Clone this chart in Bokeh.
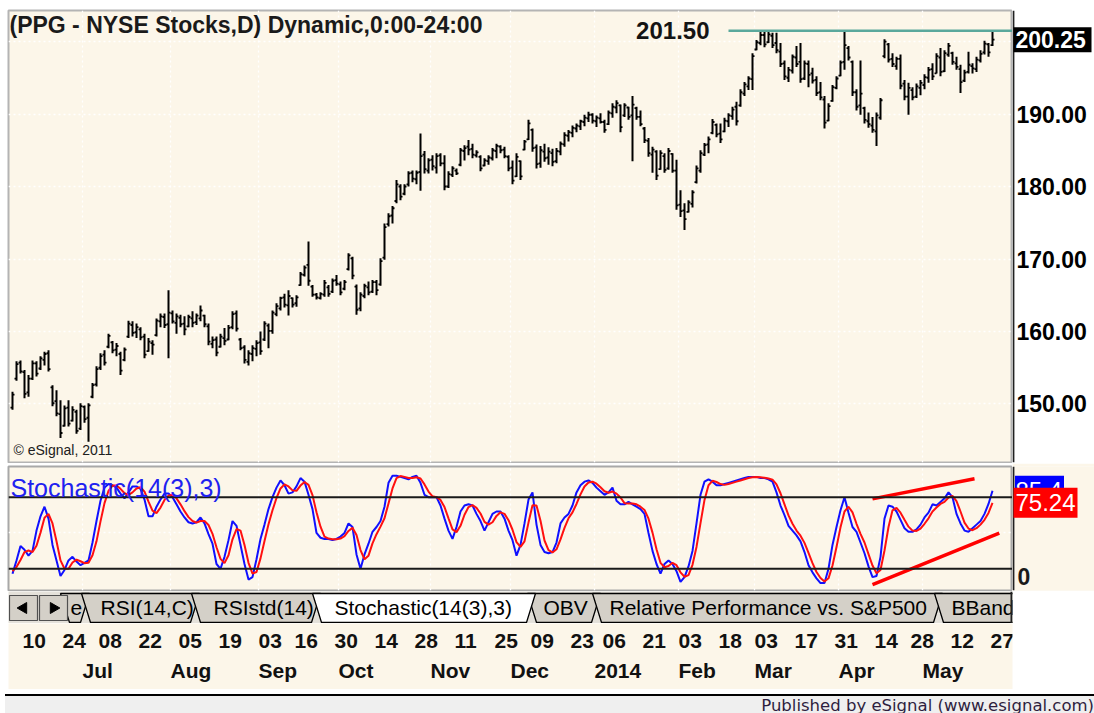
import numpy as np
import pandas as pd
from bokeh.plotting import figure
from bokeh.models import Range1d, FixedTicker, Label, Span, ColumnDataSource, Div, Grid
from bokeh.layouts import column, row
from bokeh.embed import file_html
from bokeh.resources import INLINE
from bokeh.core.properties import value

# ------------------------------------------------------------------ data
holidays = ["2013-07-04", "2013-09-02", "2013-11-28", "2013-12-25", "2014-01-01",
            "2014-01-20", "2014-02-17", "2014-04-18", "2014-05-26"]
first_day = "2013-06-05"
last_day = "2014-05-27"

high = [151.7,155.9,156.0,154.7,154.0,156.0,155.9,156.6,157.2,157.4,
        152.6,151.9,150.5,149.8,150.5,149.7,149.2,150.1,149.8,150.1,
        152.9,155.2,157.0,157.4,159.7,158.7,158.4,157.2,157.8,161.5,
        161.4,161.1,160.6,159.7,159.1,158.8,161.8,162.5,162.5,165.7,
        162.9,162.5,162.3,162.1,162.3,162.8,162.5,163.6,162.3,161.1,
        159.3,159.3,159.7,160.5,160.9,162.8,162.9,159.1,158.1,157.4,
        158.1,158.8,160.0,161.4,161.1,162.9,163.9,164.8,165.2,165.7,
        164.7,165.0,168.2,169.1,172.4,166.4,165.3,165.4,167.1,166.4,
        167.3,167.8,166.9,167.1,170.8,170.3,166.5,165.4,166.6,166.9,
        167.1,167.1,170.1,174.9,176.3,177.3,180.9,180.3,180.3,182.1,
        182.2,182.2,187.3,184.9,183.9,184.3,184.6,184.6,184.3,182.1,
        182.8,182.5,185.3,185.7,186.4,185.9,185.0,184.3,183.9,184.3,
        185.3,185.9,185.7,185.5,184.3,183.6,184.6,183.6,186.4,189.2,
        188.0,185.8,185.6,185.9,185.4,185.2,185.3,186.2,187.5,187.8,
        188.4,188.7,189.2,189.9,190.3,190.1,189.8,190.1,189.2,190.5,
        191.5,191.9,191.3,191.5,191.0,192.5,191.0,190.5,188.2,186.7,
        185.5,185.0,185.0,184.6,185.3,184.6,183.7,179.5,177.7,178.1,
        179.5,182.9,185.0,186.0,186.9,189.3,188.7,188.7,189.5,190.1,
        191.0,191.7,193.4,194.4,195.2,198.4,200.2,201.5,201.3,201.5,
        201.2,201.2,199.8,197.4,196.5,198.2,199.4,199.8,197.4,197.4,
        196.4,195.2,194.4,192.5,191.5,194.0,195.2,197.4,201.5,199.4,
        197.4,193.4,197.4,191.0,190.2,189.6,190.2,192.2,200.3,199.8,
        198.4,197.9,198.2,194.7,194.3,193.7,194.2,194.7,195.5,196.5,
        197.0,198.4,199.1,198.8,199.8,198.6,197.9,196.8,196.1,198.6,
        197.0,197.9,198.8,200.1,199.8,201.3]
low = [149.2,153.2,154.2,150.8,151.0,153.3,153.8,154.7,155.3,154.5,
       149.7,148.3,145.3,146.9,146.9,147.6,145.9,146.4,147.4,144.8,
       150.8,152.4,154.7,155.3,157.7,157.0,156.6,154.0,155.9,159.1,
       159.3,159.1,158.8,156.3,157.2,156.8,159.3,160.6,160.5,156.3,
       161.1,159.7,160.6,159.5,160.6,160.6,160.9,161.4,160.6,158.1,
       157.7,156.6,157.8,158.1,158.8,160.3,160.0,157.4,155.6,155.3,
       155.9,156.6,156.8,158.7,157.7,159.7,162.1,162.9,163.3,162.2,
       163.3,163.4,166.3,167.6,166.3,164.8,164.4,164.4,164.8,164.8,
       165.3,166.3,165.0,165.7,168.4,167.2,162.3,162.8,164.6,165.0,
       165.3,165.0,166.3,169.9,174.5,174.9,177.7,178.1,178.8,180.0,
       180.6,180.3,179.4,181.8,181.8,182.2,181.8,182.8,179.5,179.8,
       181.3,181.6,182.8,183.6,184.3,183.9,184.0,182.1,182.8,183.0,
       183.6,183.9,184.6,183.9,182.1,180.3,181.3,180.9,185.0,186.4,
       184.8,182.5,182.6,183.4,183.0,182.8,183.2,184.3,185.5,186.2,
       186.8,187.5,187.8,188.3,188.9,188.7,188.2,188.7,187.4,188.5,
       189.5,190.1,187.5,189.6,189.2,183.5,189.2,188.3,186.0,184.1,
       181.9,180.9,182.3,181.9,182.3,181.9,176.8,175.8,174.0,176.4,
       177.1,180.4,181.9,184.2,184.6,187.2,186.8,186.0,187.5,188.2,
       189.2,188.4,191.0,192.5,193.3,193.3,198.8,199.5,199.2,199.8,
       199.1,198.4,196.5,194.7,194.4,195.6,196.5,194.3,194.7,193.7,
       194.2,192.5,191.9,188.0,189.0,191.7,193.4,195.2,196.1,197.4,
       192.5,190.5,189.9,188.7,188.1,187.4,185.6,189.2,197.7,197.1,
       196.5,196.1,193.4,191.9,189.9,191.9,192.2,192.6,193.4,194.3,
       194.7,195.6,195.2,195.8,197.9,196.8,196.1,192.9,194.4,195.6,
       195.6,195.8,197.1,198.2,197.9,199.4]
open_ = [149.5,153.5,155.7,154.4,151.6,153.5,155.6,154.9,156.1,157.0,
         152.3,150.4,148.6,147.0,149.5,147.7,148.9,146.6,149.6,148.1,
         151.0,152.7,155.0,156.8,157.9,158.5,157.5,156.9,156.1,159.3,
         160.9,159.9,160.3,159.3,157.3,158.4,159.5,161.4,162.0,161.0,
         162.5,161.2,161.9,161.1,160.7,161.8,161.3,161.8,162.2,160.7,
         158.3,158.9,157.9,159.1,158.9,160.6,162.5,158.9,157.8,155.8,
         156.9,157.6,158.5,158.9,160.8,160.1,162.4,163.2,164.7,163.6,
         164.6,163.9,166.4,167.8,169.2,166.2,165.1,164.6,165.1,166.1,
         165.5,167.1,166.5,165.9,168.6,170.1,166.2,163.2,164.9,166.1,
         165.5,166.8,166.5,170.2,174.8,176.0,178.0,180.0,179.0,180.3,
         181.9,181.0,182.0,184.4,182.2,183.7,182.6,184.3,183.2,180.0,
         181.6,182.2,183.0,184.9,185.5,185.2,184.3,184.1,182.9,183.5,
         183.9,184.9,185.5,185.1,184.1,182.6,181.4,183.5,185.1,186.5,
         187.8,185.4,183.2,184.8,184.0,184.6,183.5,184.8,185.8,187.0,
         187.4,188.0,188.3,188.9,189.4,189.9,189.0,189.4,188.9,188.6,
         190.1,190.9,191.2,189.8,190.9,189.8,190.8,189.6,188.0,186.3,
         184.4,184.8,182.4,184.2,182.5,184.5,182.2,177.5,176.7,176.5,
         177.6,180.6,182.2,184.4,185.8,187.4,188.5,187.3,187.6,189.0,
         189.7,191.0,191.2,192.8,193.8,194.8,198.9,199.8,200.9,199.9,
         200.8,199.8,198.6,197.0,195.0,196.0,197.8,197.2,194.9,196.9,
         195.6,194.7,193.0,192.0,189.1,191.8,193.6,195.3,197.2,199.1,
         197.2,193.0,191.2,190.8,189.0,188.4,187.6,189.5,198.0,199.6,
         197.6,196.6,197.6,194.2,192.4,193.3,192.4,193.6,194.0,195.0,
         196.2,195.6,197.8,195.9,198.2,198.4,197.0,196.2,194.6,195.8,
         196.6,196.2,197.4,198.5,199.6,199.5]
close = [151.3,155.5,154.5,151.4,153.5,155.6,154.2,156.3,156.9,154.8,
         150.1,148.7,146.0,149.4,147.3,149.2,146.3,149.7,147.9,149.8,
         152.6,154.8,156.6,155.7,159.4,157.4,158.0,154.6,157.5,161.1,
         159.8,160.6,159.2,156.8,158.6,158.2,161.5,162.1,160.9,162.6,
         161.4,162.1,161.0,160.3,162.0,161.2,162.2,162.9,161.0,158.6,
         158.8,157.1,159.3,158.7,160.5,162.4,160.4,157.7,156.1,157.0,
         157.7,158.4,157.3,161.1,160.1,162.6,163.5,164.6,163.7,164.9,
         163.7,164.7,167.9,168.8,167.0,165.1,164.7,165.2,166.7,165.2,
         167.0,166.6,165.4,166.8,170.5,167.7,163.0,165.1,166.3,165.4,
         166.8,165.7,169.7,174.4,175.9,177.0,180.3,178.6,180.0,181.8,
         181.1,181.9,184.2,182.4,183.6,182.8,184.2,183.2,180.0,181.7,
         182.5,181.8,185.0,185.3,185.1,184.4,184.7,182.5,183.6,184.0,
         185.0,185.6,185.0,184.2,182.5,180.8,184.1,181.4,186.2,188.7,
         185.3,183.1,185.0,183.9,184.8,183.4,184.9,185.9,187.1,187.5,
         188.1,188.4,189.0,189.5,189.9,189.1,189.5,188.9,187.8,190.2,
         191.0,191.5,188.2,191.2,189.6,191.3,189.6,188.6,186.4,184.6,
         185.1,181.5,184.6,182.3,184.9,182.2,177.4,176.6,175.5,177.8,
         179.2,182.5,184.6,185.7,186.5,188.9,187.2,186.5,189.1,189.8,
         190.6,189.0,193.0,194.1,194.9,198.0,199.9,200.9,199.6,201.0,
         199.5,198.8,196.9,195.2,196.1,197.9,196.9,194.8,197.0,195.4,
         194.6,192.9,192.3,188.8,191.1,193.7,194.9,197.1,199.5,197.8,
         193.0,191.0,192.8,189.2,188.6,187.8,189.8,191.9,200.0,197.5,
         196.9,197.6,193.9,192.4,193.6,192.3,193.8,194.3,195.1,196.1,
         195.2,198.0,195.8,198.4,199.4,197.2,196.5,194.4,195.7,196.8,
         196.3,197.5,198.3,199.7,198.5,200.25]

# Stochastic(14(3),3): %K (blue) and %D (red)
stoch_k = [15.8,27,39,36,31,35,52,64,72,62,
           40,27,14,19,27,30,26,23,25,27,
           42,60,77,88,91,90,88,83,79,84,
           89,89,87,78,64,64,72,78,83,83,
           80,74,68,63,59,58,59,63,58,49,
           41,24,20,30,44,60,56,40,24,11,
           13,28,45,57,70,80,88,94,90,83,
           84,89,96,93,82,70,50,46,45,45,
           44,45,47,50,58,55,32,20,32,41,
           51,55,60,72,92,98,98,97,96,95,
           97,98,92,82,80,80,80,73,62,52,
           45,55,68,73,74,73,66,60,52,59,
           66,68,68,62,52,44,31,40,58,78,
           84,57,40,34,33,34,42,58,63,66,
           73,84,90,93,94,92,88,85,82,84,
           88,77,74,74,76,74,72,70,66,50,
           35,24,16,24,27,24,18,9,13,22,
           35,58,82,93,95,93,90,90,91,92,
           93,94,95,96,97,97,97,96,96,95,
           93,84,73,65,56,52,48,43,34,23,
           17,12,8,8,20,40,55,69,80,67,
           55,51,42,33,22,13,14,30,62,73,
           72,68,61,54,51,51,53,57,63,67,
           74,73,76,79,84,80,66,58,52,51,
           54,57,60,66,74.3,85.4]
stoch_d = [18,21.4,27.3,34,35.3,34,39.3,50.3,62.7,66,
           58,43,27,20,20,25.3,27.7,26.3,24.7,25,
           31.3,43,59.7,75,85.3,89.7,89.7,87,83.3,82,
           84,87.3,88.3,84.7,76.3,68.7,66.7,71.3,77.7,81.3,
           82,79,74,68.3,63.3,60,58.7,60,60,56.7,
           49.3,38,28.3,24.7,31.3,44.7,53.3,52,40,25,
           16,17.3,28.7,43.3,57.3,69,79.3,87.3,90.7,89,
           85.7,85.3,89.7,92.7,90.3,81.7,67.3,55.3,47,45.3,
           44.7,44.7,45.3,47.3,51.7,54.3,48.3,35.7,28,31,
           41.3,49,55.3,62.3,74.7,87.3,96,97.7,97,96,
           96,96.7,95.7,90.7,84.7,80.7,80,77.7,71.7,62.3,
           53,50.7,56,65.3,71.7,73.3,71,66.3,59.3,57,
           59,64.3,67.3,66,60.7,52.7,42.3,38.3,43,58.7,
           73.3,73,60.3,43.7,35.7,33.7,36.3,44.7,54.3,62.3,
           67.3,74.3,82.3,89,92.3,93,91.3,88.3,85,83.7,
           84.7,83,79.7,75,74.7,74.7,74,72,69.3,62,
           50.3,36.3,25,21.3,22.3,25,23,17,13.3,14.7,
           23.3,38.3,58.3,77.7,90,93.7,92.7,91,90.3,91,
           92,93,94,95,96,96.7,97,96.7,96.3,95.7,
           94.7,90.7,83.3,74,64.7,57.7,52,47.7,41.7,33.3,
           24.7,17.3,12.3,9.3,12,22.7,38.3,54.7,68,72,
           67.3,57.7,49.3,42,32.3,22.7,16.3,19,35.3,55,
           69,71,67,61,55.3,52,51.7,53.7,57.7,62.3,
           68,71.3,74.3,76,79.7,81,76.7,68,58.7,53.7,
           52.3,54,57,61,66.8,75.24]
stoch_levels = [80, 20]
stoch_k_last = 85.4
stoch_d_last = 75.24

# hand-drawn trend lines on the stochastic pane (bar index, value)
trend_upper_i = [215, 240.5]
trend_upper_v = [78.6, 95.4]
trend_lower_i = [215, 246.7]
trend_lower_v = [6.8, 49.8]

resistance_level = 201.50
resistance_start = "2014-02-20"

price_ticks = [150, 160, 170, 180, 190]
price_grid = [150, 160, 170, 180, 190, 200]

day_tick_dates = ["2013-06-10", "2013-06-24", "2013-07-08", "2013-07-22", "2013-08-05",
                  "2013-08-19", "2013-09-03", "2013-09-16", "2013-09-30", "2013-10-14",
                  "2013-10-28", "2013-11-11", "2013-11-25", "2013-12-09", "2013-12-23",
                  "2014-01-06", "2014-01-21", "2014-02-03", "2014-02-18", "2014-03-03",
                  "2014-03-17", "2014-03-31", "2014-04-14", "2014-04-28", "2014-05-12",
                  "2014-05-27"]
day_tick_labels = ["10", "24", "08", "22", "05", "19", "03", "16", "30", "14", "28", "11",
                   "25", "09", "23", "06", "21", "03", "18", "03", "17", "31", "14", "28",
                   "12", "27"]
month_dates = ["2013-07-01", "2013-08-01", "2013-09-03", "2013-10-01", "2013-11-01",
               "2013-12-02", "2014-01-02", "2014-02-03", "2014-03-03", "2014-04-01",
               "2014-05-01"]
month_labels = ["Jul", "Aug", "Sep", "Oct", "Nov", "Dec", "2014", "Feb", "Mar", "Apr", "May"]

tab_labels = ["e", "RSI(14,C)", "RSIstd(14)", "OBV", "Relative Performance vs. S&P500",
              "BBand", "Stochastic(14(3),3)"]
tab_active = "Stochastic(14(3),3)"

# ------------------------------------------------------------------ helpers
trading_days = pd.bdate_range(first_day, last_day, freq="C", holidays=holidays)
day_str = list(trading_days.strftime("%Y-%m-%d"))
pos = {d: i for i, d in enumerate(day_str)}
n = len(close)
idx = np.arange(n, dtype=float)

CREAM = "#FCF6E9"
FONT = "Liberation Sans"
LEFT_W = 8
FRAME_W = 1004
SIDE_W = 82
xr = Range1d(-1, 250)
side_xr = Range1d(0, SIDE_W)
month_grid = [pos[d] - 0.5 for d in month_dates]


def make_fig(frame_w, frame_h, x_range, y_range, left, right, top, bottom, bg, border="white"):
    f = figure(frame_width=frame_w, frame_height=frame_h, x_range=x_range, y_range=y_range,
               output_backend="svg", toolbar_location=None,
               x_axis_location=None, y_axis_location=None,
               min_border_left=left, min_border_right=right,
               min_border_top=top, min_border_bottom=bottom,
               background_fill_color=bg, border_fill_color=border,
               outline_line_color=None)
    f.grid.visible = False
    return f


def dotted_grid(fig, dim, ticks):
    fig.add_layout(Grid(dimension=dim, ticker=FixedTicker(ticks=ticks),
                        grid_line_color="white", grid_line_width=1.3,
                        grid_line_dash="2 3"))


def axis_line(fig, yr):
    fig.segment(x0=[0.9], y0=[yr.start], x1=[0.9], y1=[yr.end],
                line_color="#202020", line_width=2)


# ------------------------------------------------------------------ price pane
py = Range1d(141.93, 204.28)
p = make_fig(FRAME_W, 452, xr, py, LEFT_W, 0, 10, 1, CREAM)
p.outline_line_color = "#B4B4B4"
p.outline_line_width = 2
dotted_grid(p, 1, price_grid)
dotted_grid(p, 0, month_grid)

src = ColumnDataSource(dict(i=idx, il=idx - 0.5, ir=idx + 0.5,
                            o=open_, h=high, l=low, c=close))
p.segment("i", "l", "i", "h", source=src, line_color="black", line_width=2)
p.segment("il", "o", "i", "o", source=src, line_color="black", line_width=1.8)
p.segment("i", "c", "ir", "c", source=src, line_color="black", line_width=1.8)

r0 = pos[resistance_start]
p.segment(x0=[r0], y0=[resistance_level], x1=[xr.end], y1=[resistance_level],
          line_color="#5AA89C", line_width=2.5)
p.add_layout(Label(x=r0, y=resistance_level, x_offset=-19, text=f"{resistance_level:.2f}",
                   text_align="right", text_baseline="middle", text_font=FONT,
                   text_font_size="24px", text_font_style="bold", text_color="#141414"))
p.add_layout(Label(x=xr.start, y=py.end, x_offset=1, y_offset=-1,
                   text="(PPG - NYSE Stocks,D) Dynamic,0:00-24:00",
                   text_align="left", text_baseline="top", text_font=FONT,
                   text_font_size="23px", text_font_style="bold", text_color="#1A1A1A"))
p.add_layout(Label(x=xr.start, y=py.start, x_offset=5, y_offset=5,
                   text="\u00a9 eSignal, 2011", text_align="left", text_baseline="bottom",
                   text_font=FONT, text_font_size="14px", text_color="#202020"))

# price scale (right side)
ps = make_fig(SIDE_W, 452, side_xr, py, 0, 0, 10, 1, "white")
axis_line(ps, py)
ps.text(x=4, y=price_ticks, text=[f"{v:.2f}" for v in price_ticks], text_align="left",
        text_baseline="middle", text_font=value(FONT), text_font_size="23px",
        text_font_style="bold", text_color="black")
ps.rect(x=40, y=close[-1], width=78, height=25, height_units="screen",
        fill_color="black", line_color=None)
ps.text(x=3, y=close[-1], text=[f"{close[-1]:.2f}"], text_align="left",
        text_baseline="middle", text_font=value(FONT), text_font_size="23px",
        text_font_style="bold", text_color="white")

# ------------------------------------------------------------------ stochastic pane
sy = Range1d(1.8, 105.7)
s = make_fig(FRAME_W, 124, xr, sy, LEFT_W, 0, 3, 1, CREAM)
s.outline_line_color = "#A8A8A8"
s.outline_line_width = 2
dotted_grid(s, 0, month_grid)
dotted_grid(s, 1, [50])
for lvl in stoch_levels:
    s.add_layout(Span(location=lvl, dimension="width", line_color="#1A1A1A", line_width=2))
s.line(idx, stoch_k, line_color="#1010FF", line_width=2)
s.line(idx, stoch_d, line_color="#FF1010", line_width=2)
s.line(trend_upper_i, trend_upper_v, line_color="#FF0000", line_width=3.5)
s.line(trend_lower_i, trend_lower_v, line_color="#FF0000", line_width=3.5)
s.add_layout(Label(x=xr.start, y=sy.end, x_offset=2, y_offset=-7,
                   text="Stochastic(14(3),3)", text_align="left", text_baseline="top",
                   text_font=FONT, text_font_size="25px", text_color="#2020F0"))

ss = make_fig(SIDE_W, 124, side_xr, sy, 0, 0, 3, 1, CREAM, border=CREAM)
axis_line(ss, sy)
ss.rect(x=27, y=stoch_k_last, width=49, height=30, height_units="screen",
        fill_color="#0000FF", line_color=None)
ss.text(x=3, y=stoch_k_last, text=[f"{stoch_k_last:.1f}"], text_align="left",
        text_baseline="middle", text_font=value(FONT), text_font_size="24px",
        text_color="white")
ss.rect(x=33, y=stoch_d_last, width=64, height=30, height_units="screen",
        fill_color="#FF0000", line_color=None)
ss.text(x=3, y=stoch_d_last, text=[f"{stoch_d_last:.2f}"], text_align="left",
        text_baseline="middle", text_font=value(FONT), text_font_size="24px",
        text_color="white")
ss.text(x=5, y=stoch_levels[1], y_offset=8, text=["0"], text_align="left",
        text_baseline="middle", text_font=value(FONT), text_font_size="23px",
        text_font_style="bold", text_color="#1A1A1A")

# ------------------------------------------------------------------ tab strip
t = make_fig(FRAME_W, 32, Range1d(0, FRAME_W), Range1d(0, 32), LEFT_W, SIDE_W, 0, 0,
             "#E4E1DA")
tab_left = [52, 73, 183, 519, 584, 926, 304]
tab_right = [81, 191, 312, 592, 934, 1062, 527]
tab_text_x = [62, 92, 205, 535, 601, 943, 326]
TOP, BOT, SL = 30, 1, 9
fills = ["white" if lab == tab_active else "#D4D0C8" for lab in tab_labels]
for i in range(len(tab_labels)):
    L, R = tab_left[i], tab_right[i]
    t.patch([L, R, R - SL, L + SL], [TOP, TOP, BOT, BOT], fill_color=fills[i],
            line_color="black", line_width=1.3)
    t.text(x=[tab_text_x[i]], y=[16], text=[tab_labels[i]], text_align="left",
           text_baseline="middle", text_font=value(FONT), text_font_size="21px",
           text_color="black")
t.quad(left=[1, 31], right=[29, 59], bottom=[3, 3], top=[28, 28],
       fill_color="#D4D0C8", line_color="#505050", line_width=1.2)
t.scatter(x=[15, 45], y=[15.5, 15.5], marker="triangle", size=11,
          angle=[np.pi / 2, -np.pi / 2], fill_color="black", line_color="black")
t.segment(x0=[FRAME_W - 1], y0=[0], x1=[FRAME_W - 1], y1=[32], line_color="#202020",
          line_width=2)

# ------------------------------------------------------------------ date axis
d = make_fig(FRAME_W, 66, xr, Range1d(0, 66), LEFT_W, SIDE_W, 0, 0, CREAM)
day_x = [pos[dd] - 0.5 for dd in day_tick_dates]
mon_x = [pos[dd] - 0.5 for dd in month_dates]
d.text(x=day_x, y=49, text=day_tick_labels, text_align="left", text_baseline="middle",
       text_font=value(FONT), text_font_size="21px", text_font_style="bold",
       text_color="#111111")
d.text(x=mon_x, y=19, text=month_labels, text_align="left", text_baseline="middle",
       text_font=value(FONT), text_font_size="21px", text_font_style="bold",
       text_color="#111111")

foot = Div(text="Published by eSignal (www.esignal.com)", width=LEFT_W + FRAME_W + SIDE_W,
           height=23,
           styles={"background-color": "#EFEFEF", "border-top": "2px solid #000",
                   "box-sizing": "border-box", "text-align": "right",
                   "font-family": "DejaVu Sans", "font-size": "16.5px", "line-height": "20px",
                   "color": "#2E1E3E", "padding-right": "5px", "overflow": "hidden"})

layout = column(row(p, ps, spacing=0), row(s, ss, spacing=0), t, d, foot, spacing=0)
open("out.html", "w").write(file_html(layout, INLINE))
